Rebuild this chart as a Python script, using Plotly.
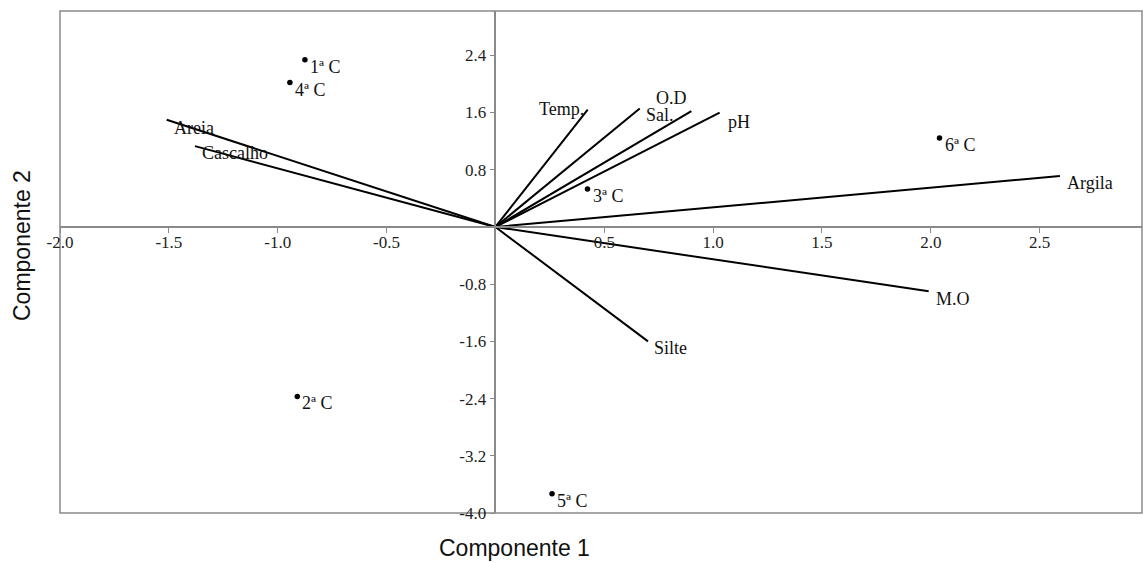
import plotly.graph_objects as go

# --- data ---
site_names = ["1ª C", "2ª C", "3ª C", "4ª C", "5ª C", "6ª C"]
site_x = [-0.875, -0.91, 0.423, -0.944, 0.26, 2.04]
site_y = [2.34, -2.37, 0.53, 2.02, -3.73, 1.245]

var_names = ["Areia", "Cascalho", "Temp.", "Sal.", "O.D", "pH", "Argila", "M.O", "Silte"]
var_x = [-1.51, -1.38, 0.424, 0.663, 0.90, 1.03, 2.593, 1.99, 0.701]
var_y = [1.50, 1.13, 1.64, 1.656, 1.62, 1.60, 0.713, -0.90, -1.60]

x_ticks = [-2.0, -1.5, -1.0, -0.5, 0.5, 1.0, 1.5, 2.0, 2.5]
y_ticks = [2.4, 1.6, 0.8, -0.8, -1.6, -2.4, -3.2, -4.0]

x_range = [-2.0, 2.97]
y_range = [-4.0, 3.02]

# label placement (pixels): xanchor, xshift, yshift
var_label_style = {
    "Areia": ("left", 5, -8),
    "Cascalho": ("left", 5, -7),
    "Temp.": ("right", -2, 1),
    "Sal.": ("left", 4, -6),
    "O.D": ("center", -20, 13),
    "pH": ("left", 6, -9),
    "Argila": ("left", 5, -7),
    "M.O": ("left", 5, -8),
    "Silte": ("left", 4, -7),
}

serif = "Liberation Serif, Times New Roman, serif"
sans = "Liberation Sans, Arial, sans-serif"
axis_gray = "#8a8a8a"

fig = go.Figure()

# vectors
lx, ly = [], []
for vx, vy in zip(var_x, var_y):
    lx += [0, vx, None]
    ly += [0, vy, None]
fig.add_trace(go.Scatter(x=lx, y=ly, mode="lines",
                         line=dict(color="black", width=2), hoverinfo="skip",
                         showlegend=False))

# sites
fig.add_trace(go.Scatter(x=site_x, y=site_y, mode="markers",
                         marker=dict(color="black", size=5.5),
                         showlegend=False))

annotations = []
for name, sx, sy in zip(site_names, site_x, site_y):
    annotations.append(dict(x=sx, y=sy, xref="x", yref="y", text=name,
                            showarrow=False, xanchor="left", yanchor="middle",
                            xshift=3, yshift=-7,
                            font=dict(family=serif, size=18, color="#111")))
for name, vx, vy in zip(var_names, var_x, var_y):
    xa, xs, ys = var_label_style[name]
    annotations.append(dict(x=vx, y=vy, xref="x", yref="y", text=name,
                            showarrow=False, xanchor=xa, yanchor="middle",
                            xshift=xs, yshift=ys,
                            font=dict(family=serif, size=18, color="#111")))

# axis titles
annotations.append(dict(x=514, y=548, xref="paper", yref="paper", text="Componente 1",
                        showarrow=False, font=dict(family=sans, size=23, color="#111")))
annotations.append(dict(x=22, y=246, text="Componente 2", showarrow=False,
                        textangle=-90, font=dict(family=sans, size=23, color="#111")))

W, H = 1143, 563
ml, mr, mt, mb = 60, 1, 11, 50
pw, ph = W - ml - mr, H - mt - mb

# convert pixel positions of the titles to paper coordinates
for a in annotations[-2:]:
    a["xref"] = "paper"
    a["yref"] = "paper"
    a["x"] = (a["x"] - ml) / pw
    a["y"] = (H - mb - a["y"]) / ph
    a["xanchor"] = "center"
    a["yanchor"] = "middle"

xpos = (0 - y_range[0]) / (y_range[1] - y_range[0])
ypos = (0 - x_range[0]) / (x_range[1] - x_range[0])

fig.update_layout(
    width=W, height=H,
    margin=dict(l=ml, r=mr, t=mt, b=mb, pad=0),
    plot_bgcolor="white", paper_bgcolor="white",
    annotations=annotations,
    xaxis=dict(range=x_range, anchor="free", position=xpos,
               showgrid=False, zeroline=False, showline=True,
               linecolor=axis_gray, linewidth=1.5,
               ticks="outside", ticklen=5, tickcolor=axis_gray, tickwidth=1,
               ticklabelstandoff=-5,
               tickvals=x_ticks, ticktext=[f"{v:.1f}" for v in x_ticks],
               tickfont=dict(family=serif, size=17, color="#222")),
    yaxis=dict(range=y_range, anchor="free", position=ypos,
               showgrid=False, zeroline=False, showline=True,
               linecolor=axis_gray, linewidth=1.5,
               ticks="outside", ticklen=5, tickcolor=axis_gray, tickwidth=1,
               tickvals=y_ticks, ticktext=[f"{v:.1f}" for v in y_ticks],
               tickfont=dict(family=serif, size=17, color="#222")),
    shapes=[dict(type="rect", xref="paper", yref="paper", x0=0, y0=0, x1=1, y1=1,
                 line=dict(color=axis_gray, width=1.5), layer="below")],
)

fig.write_html("out.html")
